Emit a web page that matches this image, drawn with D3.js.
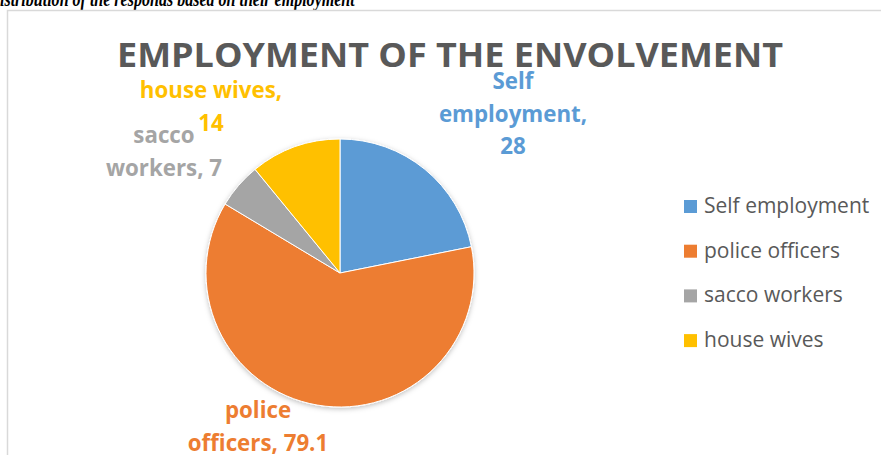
<!DOCTYPE html>
<html>
<head>
<meta charset="utf-8">
<script src="https://cdn.jsdelivr.net/npm/d3@7"></script>
<style>
  html, body { margin: 0; padding: 0; background: #fff; }
  svg { display: block; }
</style>
</head>
<body>
<div id="chart"></div>
<script>
// Employment categories and respondent counts
const categories = ["Self employment", "police officers", "sacco workers", "house wives"];
const values = [28, 79.1, 7, 14];
const colors = ["#5B9BD5", "#ED7D31", "#A5A5A5", "#FFC000"];

// Data label lines per slice (wrapped as in the chart)
const labelLines = [
  ["Self", "employment,", "28"],
  ["police", "officers, 79.1"],
  ["sacco", "workers, 7"],
  ["house wives,", "14"]
];

const width = 881, height = 455;
const svg = d3.select("#chart").append("svg")
  .attr("width", width).attr("height", height);

// Caption above the chart frame (runs off the top-left edge)
const captionFont = 20;
const caption = svg.append("text")
  .attr("y", 6)
  .attr("font-family", "Liberation Serif")
  .attr("font-weight", "bold").attr("font-style", "italic")
  .attr("font-size", captionFont).attr("fill", "#000")
  .text("Distribution of the responas based on their employment");
{
  const full = caption.node().getComputedTextLength();
  const probe = svg.append("text")
    .attr("font-family", "Liberation Serif")
    .attr("font-weight", "bold").attr("font-style", "italic")
    .attr("font-size", captionFont).text("D");
  const dW = probe.node().getComputedTextLength();
  probe.remove();
  const s = 355 / (full - dW);
  caption.attr("transform", `translate(${-dW * s},0) scale(${s},1)`);
}

// Chart frame
svg.append("rect")
  .attr("x", 7.5).attr("y", 10.5)
  .attr("width", 900).attr("height", 460)
  .attr("fill", "none").attr("stroke", "#D9D9D9").attr("stroke-width", 1.5);

// Title
svg.append("text")
  .attr("x", 450).attr("y", 67)
  .attr("text-anchor", "middle")
  .attr("font-family", "Open Sans").attr("font-weight", "bold")
  .attr("font-size", 34.5).attr("fill", "#595959")
  .attr("textLength", 666).attr("lengthAdjust", "spacingAndGlyphs")
  .text("EMPLOYMENT OF THE ENVOLVEMENT");

// Pie
const cx = 340, cy = 273, r = 134;
const defs = svg.append("defs");
const f = defs.append("filter").attr("id", "shadow")
  .attr("x", "-20%").attr("y", "-20%").attr("width", "140%").attr("height", "140%");
f.append("feDropShadow").attr("dx", 0).attr("dy", 1.5)
  .attr("stdDeviation", 2.5).attr("flood-color", "#000").attr("flood-opacity", 0.25);

const pie = d3.pie().sort(null).value(d => d)(values);
const arc = d3.arc().innerRadius(0).outerRadius(r);
const color = d3.scaleOrdinal().domain(categories).range(colors);

const g = svg.append("g").attr("transform", `translate(${cx},${cy})`);
g.append("g").attr("filter", "url(#shadow)")
  .selectAll("path").data(pie).join("path")
  .attr("d", arc)
  .attr("fill", (d, i) => color(categories[i]))
  .attr("stroke", "#fff").attr("stroke-width", 1);

// Data labels (centre x and first baseline of each label block)
const labelPos = [[513, 89], [258, 418], [164, 143], [211, 98]];
const lineH = 32.5;
labelLines.forEach((lines, i) => {
  const t = svg.append("text")
    .attr("text-anchor", "middle")
    .attr("font-family", "Open Sans").attr("font-weight", "bold")
    .attr("font-size", 22.3).attr("fill", color(categories[i]));
  lines.forEach((s, k) => {
    t.append("tspan").attr("x", labelPos[i][0]).attr("y", labelPos[i][1] + k * lineH).text(s);
  });
});

// Legend
const legend = svg.append("g").attr("transform", "translate(684,200)");
const rowH = 44.7;
const item = legend.selectAll("g").data(categories).join("g")
  .attr("transform", (d, i) => `translate(0,${i * rowH})`);
item.append("rect").attr("width", 13).attr("height", 13).attr("fill", d => color(d));
item.append("text").attr("x", 20).attr("y", 13)
  .attr("font-family", "Open Sans").attr("font-size", 21).attr("fill", "#595959")
  .text(d => d);
</script>
</body>
</html>
